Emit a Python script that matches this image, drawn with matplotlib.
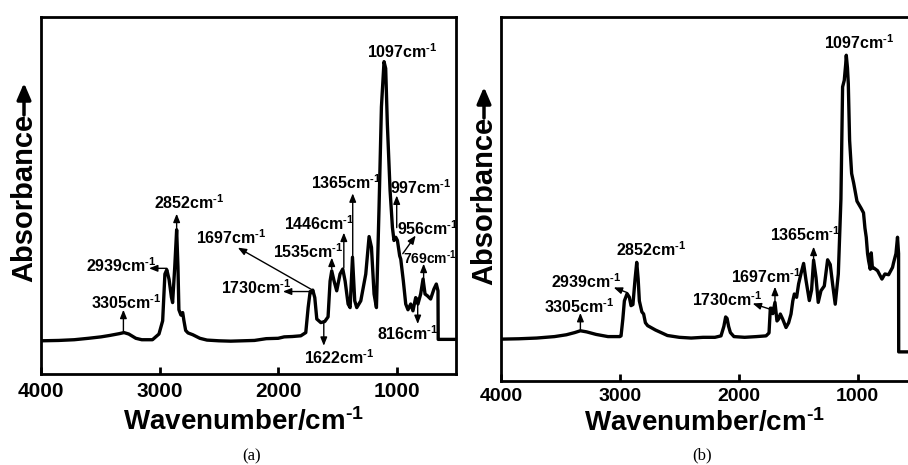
import matplotlib
matplotlib.use("Agg")
import matplotlib.pyplot as plt

plt.rcParams['font.family'] = ['Liberation Sans', 'DejaVu Sans']
plt.rcParams['font.weight'] = 'bold'
plt.rcParams['mathtext.fontset'] = 'custom'
plt.rcParams['mathtext.rm'] = 'Liberation Sans:bold'
plt.rcParams['mathtext.it'] = 'Liberation Sans:bold'
plt.rcParams['mathtext.bf'] = 'Liberation Sans:bold'

# ---- spectrum (a) (absorbance in axes units 0..1)
wn_a = [4000, 3850, 3720, 3600, 3494, 3420, 3340, 3300, 3260, 3200, 3150, 3060,
        3005, 2974, 2955, 2939, 2920, 2900, 2890, 2872, 2856, 2845, 2837, 2820,
        2805, 2795, 2780, 2760, 2720, 2660, 2600, 2500, 2400, 2300, 2200, 2100,
        2000, 1949, 1880, 1809, 1767, 1747, 1730, 1718, 1708, 1691, 1674, 1640,
        1607, 1579, 1562, 1548, 1528, 1506, 1478, 1455, 1435, 1410, 1393, 1373,
        1354, 1337, 1303, 1261, 1233, 1213, 1191, 1171, 1149, 1129, 1107, 1093,
        1079, 1056, 1036, 1023, 1008, 994, 975, 966, 944, 924, 905, 882, 863,
        840, 821, 798, 778, 761, 741, 714, 686, 666, 652, 650, 500]
abs_a = [0.093, 0.094, 0.096, 0.100, 0.104, 0.108, 0.113, 0.116, 0.112, 0.100, 0.096, 0.096,
         0.112, 0.149, 0.280, 0.292, 0.265, 0.215, 0.200, 0.300, 0.404, 0.300, 0.180, 0.165,
         0.172, 0.150, 0.122, 0.115, 0.110, 0.100, 0.095, 0.093, 0.092, 0.093, 0.094, 0.099,
         0.100, 0.104, 0.105, 0.107, 0.116, 0.186, 0.231, 0.228, 0.235, 0.214, 0.154, 0.144,
         0.147, 0.160, 0.260, 0.289, 0.260, 0.233, 0.280, 0.294, 0.260, 0.196, 0.186, 0.327,
         0.205, 0.186, 0.205, 0.280, 0.385, 0.355, 0.224, 0.186, 0.467, 0.748, 0.875, 0.856,
         0.700, 0.514, 0.410, 0.374, 0.383, 0.374, 0.331, 0.322, 0.260, 0.196, 0.180, 0.196, 0.177,
         0.214, 0.196, 0.224, 0.266, 0.224, 0.219, 0.210, 0.238, 0.252, 0.233, 0.097, 0.097]

# ---- spectrum (b)
wn_b = [4000, 3850, 3700, 3550, 3450, 3380, 3332, 3280, 3200, 3100, 3000, 2990,
        2975, 2962, 2939, 2920, 2906, 2890, 2872, 2858, 2846, 2836, 2815, 2800,
        2785, 2766, 2700, 2653, 2600, 2500, 2400, 2300, 2200, 2149, 2125, 2110,
        2098, 2085, 2070, 2040, 1950, 1850, 1770, 1745, 1734, 1725, 1713, 1695,
        1678, 1665, 1650, 1630, 1602, 1580, 1560, 1545, 1532, 1513, 1496, 1476,
        1454, 1434, 1406, 1387, 1370, 1350, 1331, 1308, 1280, 1252, 1230, 1210,
        1188, 1162, 1140, 1126, 1112, 1100, 1095, 1085, 1078, 1067, 1050, 1033,
        1005, 971, 950, 938, 927, 916, 907, 893, 885, 875, 865, 832, 795, 770,
        739, 706, 697, 677, 664, 655, 654, 500]
abs_b = [0.115, 0.116, 0.118, 0.122, 0.127, 0.133, 0.138, 0.135, 0.128, 0.122, 0.122, 0.124,
         0.170, 0.220, 0.240, 0.230, 0.207, 0.210, 0.280, 0.326, 0.280, 0.220, 0.190, 0.184,
         0.160, 0.152, 0.140, 0.133, 0.125, 0.120, 0.118, 0.120, 0.120, 0.124, 0.150, 0.176,
         0.172, 0.150, 0.133, 0.122, 0.120, 0.122, 0.124, 0.132, 0.200, 0.200, 0.185, 0.216,
         0.165, 0.170, 0.184, 0.170, 0.147, 0.160, 0.184, 0.220, 0.239, 0.230, 0.267, 0.295,
         0.323, 0.277, 0.221, 0.250, 0.332, 0.285, 0.216, 0.248, 0.261, 0.333, 0.320, 0.266,
         0.211, 0.294, 0.500, 0.808, 0.826, 0.870, 0.895, 0.860, 0.817, 0.661, 0.570, 0.544,
         0.494, 0.475, 0.462, 0.420, 0.395, 0.350, 0.330, 0.307, 0.352, 0.310, 0.311, 0.303, 0.280, 0.294,
         0.292, 0.312, 0.325, 0.350, 0.395, 0.350, 0.080, 0.080]

ticks = [4000, 3000, 2000, 1000]

# peak labels: (label, text x, text y, arrow tail, arrow head, fontsize)
peaks_a = [
    ("3305", 3279, 0.200, (3305, 0.116), (3305, 0.180), 11.5),
    ("2939", 3325, 0.303, (2938, 0.296), (3089, 0.296), 11.5),
    ("2852", 2748, 0.480, (2856, 0.405), (2856, 0.449), 11.5),
    ("1697", 2394, 0.382, (1699, 0.233), (2340, 0.354), 11.5),
    ("1730", 2188, 0.242, (1741, 0.231), (1960, 0.231), 11.5),
    ("1622", 1484, 0.045, (1615, 0.149), (1615, 0.079), 11.5),
    ("1535", 1746, 0.343, (1548, 0.295), (1548, 0.326), 11.5),
    ("1446", 1653, 0.421, (1446, 0.298), (1446, 0.396), 11.5),
    ("1365", 1425, 0.537, (1371, 0.326), (1371, 0.506), 11.5),
    ("1097", 954, 0.902, None, None, 11.5),
    ("997", 794, 0.522, (1000, 0.410), (1000, 0.500), 11.5),
    ("956", 739, 0.407, (949, 0.337), (840, 0.388), 11.5),
    ("769", 722, 0.326, (773, 0.253), (773, 0.309), 10),
    ("816", 907, 0.112, (823, 0.213), (823, 0.140), 11.5),
]
peaks_b = [
    ("1097", 986, 0.929, None, None, 11.5),
    ("3305", 3345, 0.204, (3332, 0.140), (3332, 0.187), 11.5),
    ("2939", 3286, 0.273, (2939, 0.243), (3052, 0.257), 11.5),
    ("2852", 2739, 0.360, None, None, 11.5),
    ("1730", 2100, 0.224, (1734, 0.197), (1883, 0.213), 11.5),
    ("1697", 1768, 0.288, (1695, 0.218), (1695, 0.259), 11.5),
    ("1365", 1444, 0.401, (1370, 0.328), (1370, 0.369), 11.5),
]

W, H = 908, 465
fig = plt.figure(figsize=(W / 100, H / 100), dpi=100)
ax_a = fig.add_axes([41 / W, 1 - 374 / H, 415 / W, 357 / H])
ax_b = fig.add_axes([501 / W, 1 - 381 / H, 416 / W, 364 / H])


def draw_panel(ax, wn, ab, peaks, tick_size, tick_pad):
    ax.plot(wn, ab, color='k', lw=2.4, solid_joinstyle='round')
    ax.set_xlim(4000, 500)
    ax.set_ylim(0, 1)
    ax.set_xticks(ticks)
    ax.set_yticks([])
    ax.tick_params(axis='x', direction='in', length=5, width=2,
                   labelsize=tick_size, pad=tick_pad)
    for lbl in ax.get_xticklabels():
        lbl.set_fontweight('bold')
    for s in ax.spines.values():
        s.set_linewidth(2)
    for label, tx, ty, tail, head, fs in peaks:
        ax.text(tx, ty, label + r'cm$^{\text{-1}}$', ha='center', va='center',
                fontsize=fs, fontweight='bold')
        if tail is not None:
            ax.annotate('', xy=head, xytext=tail,
                        arrowprops=dict(arrowstyle='-|>,head_length=0.5,head_width=0.2',
                                        lw=1, color='k', shrinkA=0, shrinkB=0))


draw_panel(ax_a, wn_a, abs_a, peaks_a, 15, 6)
draw_panel(ax_b, wn_b, abs_b, peaks_b, 14, 5)

# y titles: word plus a bold arrow above it
for x_px, y_mid, y_tail, y_head in [(24, 198, 115, 83), (484, 201, 118, 87)]:
    fig.text(x_px / W, 1 - y_mid / H, 'Absorbance', rotation=90, ha='center',
             va='center', fontsize=21, fontweight='bold')
    ax_a.annotate('', xy=(x_px / W, 1 - y_head / H), xytext=(x_px / W, 1 - y_tail / H),
                  xycoords='figure fraction', textcoords='figure fraction',
                  annotation_clip=False,
                  arrowprops=dict(arrowstyle='-|>,head_length=0.7,head_width=0.3',
                                  lw=2.5, color='k', shrinkA=0, shrinkB=0,
                                  mutation_scale=14))

fig.text(244 / W, 1 - 430 / H, r'Wavenumber/cm$^{\text{-1}}$', ha='center', va='baseline',
         fontsize=20, fontweight='bold')
fig.text(705 / W, 1 - 431 / H, r'Wavenumber/cm$^{\text{-1}}$', ha='center', va='baseline',
         fontsize=20, fontweight='bold')

# captions
fig.text(252 / W, 1 - 456 / H, '(a)', ha='center', va='center', fontsize=12,
         family='Liberation Serif', fontweight='normal')
fig.text(702 / W, 1 - 455 / H, '(b)', ha='center', va='center', fontsize=12,
         family='Liberation Serif', fontweight='normal')

fig.savefig('out.png', dpi=100)
